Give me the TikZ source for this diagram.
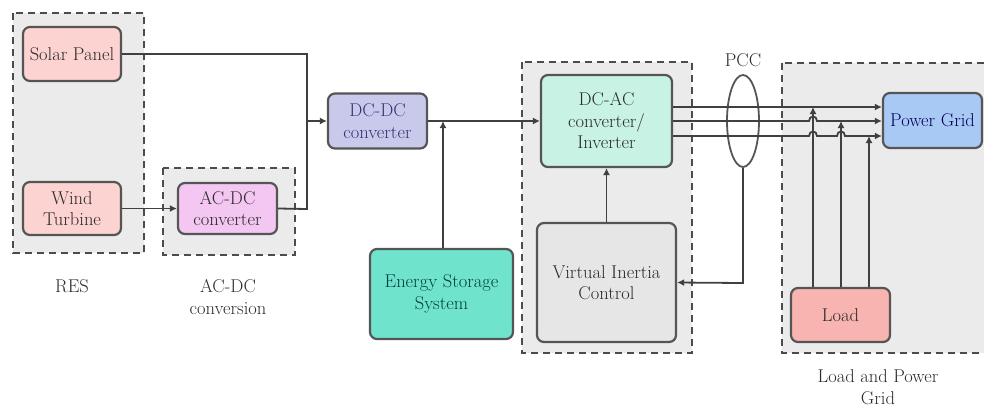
\documentclass[tikz,border=0pt]{standalone}
\usetikzlibrary{arrows.meta,shapes.geometric}
\definecolor{grpfill}{HTML}{EBEBEB}
\definecolor{edge}{HTML}{555555}
\definecolor{solarfill}{HTML}{FCD3D0}
\definecolor{acdcfill}{HTML}{F4C6F2}
\definecolor{dcdcfill}{HTML}{C9C9EC}
\definecolor{essfill}{HTML}{6FE3CC}
\definecolor{dcacfill}{HTML}{C8F3E4}
\definecolor{vicfill}{HTML}{E6E6E6}
\definecolor{pgfill}{HTML}{A9C9F5}
\definecolor{loadfill}{HTML}{F8B4B0}
\definecolor{txt}{HTML}{2A2A2A}
\tikzset{
  box/.style={draw=edge, line width=2.2pt, rounded corners=7pt, inner sep=0pt, align=center, text=txt,
    font=\fontsize{18.5}{21.5}\selectfont},
  grp/.style={draw=edge!90!black, line width=2pt, dash pattern=on 7pt off 5pt, fill=grpfill},
  conn/.style={draw=black!75, line width=1.8pt},
  arr/.style={conn, -{Latex[length=7pt,width=7pt]}},
  lbl/.style={align=center, text=txt, font=\fontsize{18.5}{21.5}\selectfont, inner sep=0pt},
}
\begin{document}
\begin{tikzpicture}[x=1pt,y=-1pt]
\useasboundingbox (0,0) rectangle (984,408);
% groups
\draw[grp] (13,13) rectangle (144,253);
\draw[grp] (163,168) rectangle (295,255);
\draw[grp] (522,62) rectangle (692,353);
\draw[grp] (782,63) rectangle (995,353);
% boxes
\node[box, fill=solarfill, minimum width=98pt, minimum height=54pt] (solar) at (72,54) {Solar Panel};
\node[box, fill=solarfill, minimum width=98pt, minimum height=53pt] (wind) at (72,208.5) {Wind\\Turbine};
\node[box, fill=acdcfill, minimum width=99pt, minimum height=51pt] (acdc) at (227.5,208.5) {AC-DC\\converter};
\node[box, fill=dcdcfill, minimum width=99pt, minimum height=55pt, text=black!60!blue!60!gray] (dcdc) at (377.5,121) {DC-DC\\converter};
\node[box, fill=essfill, minimum width=143pt, minimum height=90pt, text=teal!50!black] (ess) at (441.5,294) {Energy Storage\\System};
\node[box, fill=dcacfill, minimum width=131pt, minimum height=92pt] (dcac) at (606.5,121) {DC-AC\\converter/\\Inverter};
\node[box, fill=vicfill, minimum width=139pt, minimum height=119pt] (vic) at (606.5,282.5) {Virtual Inertia\\Control};
\node[box, fill=pgfill, minimum width=99pt, minimum height=55pt, text=blue!35!black] (pg) at (932.5,120.5) {Power Grid};
\node[box, fill=loadfill, minimum width=99pt, minimum height=54pt] (load) at (840.5,315) {Load};
\node[draw=edge, line width=1.8pt, ellipse, minimum width=32pt, minimum height=92pt, inner sep=0pt] (pcc) at (743,121) {};
% labels
\node[lbl] (lres) at (72,286) {RES};
\node[lbl] (lacdc) at (228,297) {AC-DC\\conversion};
\node[lbl] (lpcc) at (743,60) {PCC};
\node[lbl] (lgrid) at (878,387) {Load and Power\\Grid};
% connectors
\coordinate (j1) at (307,121);
\coordinate (j2) at (443,121);
\draw[conn] (solar.east) -- (307,54) -- (307,209) -- (acdc.east);
\draw[arr] (j1) -- (dcdc.west);
\draw[arr] (wind.east) -- (acdc.west);
\draw[arr] (dcdc.east) -- (dcac.west);
\draw[arr] (ess.north -| j2) -- (j2);
\draw[arr] (vic.north) -- (dcac.south);
\draw[arr] (pcc.south) -- (743,283) -- (vic.east);
% three-phase lines with hops
\draw[arr] (dcac.east |- 0,107) -- (pg.west |- 0,107);
\draw[arr] (dcac.east |- 0,121) -- (809,121) .. controls (809,115) and (817,115) .. (817,121) -- (pg.west |- 0,121);
\draw[arr] (dcac.east |- 0,136) -- (809,136) .. controls (809,130) and (817,130) .. (817,136) -- (837,136) .. controls (837,130) and (845,130) .. (845,136) -- (pg.west |- 0,136);
% load feeders
\draw[arr] (load.north -| 813,0) -- (813,107);
\draw[arr] (load.north -| 841,0) -- (841,121);
\draw[arr] (load.north -| 869,0) -- (869,136);
\end{tikzpicture}
\end{document}
